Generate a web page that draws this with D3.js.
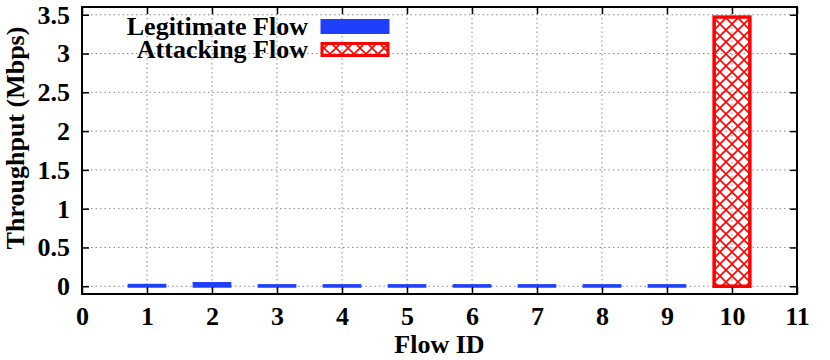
<!DOCTYPE html>
<html>
<head>
<meta charset="utf-8">
<script src="https://cdn.jsdelivr.net/npm/d3@7"></script>
<style>
  body { margin: 0; background: #fff; }
</style>
</head>
<body>
<div id="main"></div>
<script>
// values
const flowIds = [1, 2, 3, 4, 5, 6, 7, 8, 9, 10]
const throughput = [0.012, 0.035, 0.008, 0.008, 0.008, 0.008, 0.008, 0.008, 0.008, 3.47]
const flowType = ["legit", "legit", "legit", "legit", "legit", "legit", "legit", "legit", "legit", "attack"]
const xTicks = [0, 1, 2, 3, 4, 5, 6, 7, 8, 9, 10, 11]
const yTicks = [0, 0.5, 1, 1.5, 2, 2.5, 3, 3.5]
const legendLabels = ["Legitimate Flow", "Attacking Flow"]

const W = 830, H = 360
const m = {left: 82, right: 33, top: 7, bottom: 66}
const blue = "#1f40fa", red = "#ff0000"
const font = "'Liberation Serif', 'Times New Roman', 'DejaVu Serif', serif"
const fs = 26

const svg = d3.select("#main").append("svg").attr("width", W).attr("height", H)
  .attr("font-family", font).attr("font-weight", "bold")

// crosshatch for the attacking bar
const defs = svg.append("defs")
const pat = defs.append("pattern").attr("id", "hatch")
  .attr("patternUnits", "userSpaceOnUse").attr("width", 12).attr("height", 12)
pat.append("path").attr("d", "M0,0L12,12M0,12L12,0M-1,11L1,13M11,-1L13,1")
  .attr("stroke", red).attr("stroke-width", 1.6).attr("fill", "none")

const x = d3.scaleLinear().domain([0, 11]).range([m.left, W - m.right])
const y = d3.scaleLinear().domain([-0.1, 3.6]).range([H - m.bottom, m.top])

// grid
let grid = svg.append("g").attr("stroke", "#888").attr("stroke-width", 1).attr("stroke-dasharray", "1.5,3")
grid.selectAll(".gx").data(xTicks.slice(1, -1)).enter().append("line")
  .attr("x1", d => x(d)).attr("x2", d => x(d)).attr("y1", y.range()[0]).attr("y2", y.range()[1])
grid.selectAll(".gy").data(yTicks).enter().append("line")
  .attr("x1", x.range()[0]).attr("x2", x.range()[1]).attr("y1", d => y(d)).attr("y2", d => y(d))

// bars
const bw = 0.55
svg.append("g").selectAll("rect").data(flowIds).enter().append("rect")
  .attr("x", (d, i) => x(d - bw / 2))
  .attr("width", x(bw) - x(0))
  .attr("y", (d, i) => y(throughput[i]))
  .attr("height", (d, i) => y(0) - y(throughput[i]))
  .attr("fill", (d, i) => flowType[i] == "legit" ? blue : "url(#hatch)")
  .attr("stroke", (d, i) => flowType[i] == "legit" ? blue : red)
  .attr("stroke-width", (d, i) => flowType[i] == "legit" ? 3 : 3.5)

// axes, ticks pointing inward
function styleAxis(g) {
  g.attr("font-family", font).attr("font-size", fs)
  g.select(".domain").remove()
  g.selectAll("line").attr("stroke", "#000").attr("stroke-width", 1.5)
  g.selectAll("text").attr("fill", "#000").attr("font-family", font).attr("font-weight", "bold")
}
svg.append("g").attr("transform", `translate(0,${y.range()[0]})`)
  .call(d3.axisBottom(x).tickValues(xTicks).tickSize(-7).tickPadding(13).tickFormat(d3.format("d")))
  .call(styleAxis)
svg.append("g").attr("transform", `translate(0,${y.range()[1]})`)
  .call(d3.axisTop(x).tickValues(xTicks).tickSize(-7).tickFormat(""))
  .call(styleAxis)
svg.append("g").attr("transform", `translate(${x.range()[0]},0)`)
  .call(d3.axisLeft(y).tickValues(yTicks).tickSize(-7).tickPadding(12).tickFormat(d => d))
  .call(styleAxis)
svg.append("g").attr("transform", `translate(${x.range()[1]},0)`)
  .call(d3.axisRight(y).tickValues(yTicks).tickSize(-7).tickFormat(""))
  .call(styleAxis)

svg.append("rect").attr("x", x.range()[0]).attr("y", y.range()[1])
  .attr("width", x.range()[1] - x.range()[0]).attr("height", y.range()[0] - y.range()[1])
  .attr("fill", "none").attr("stroke", "#000").attr("stroke-width", 2)

// axis titles
svg.append("text").attr("x", (x.range()[0] + x.range()[1]) / 2).attr("y", 353)
  .attr("text-anchor", "middle").attr("font-size", fs).attr("font-family", font).text("Flow ID")
svg.append("text").attr("transform", "translate(24,138) rotate(-90)")
  .attr("text-anchor", "middle").attr("font-size", fs).attr("font-family", font).text("Throughput (Mbps)")

// legend
const leg = svg.append("g")
leg.selectAll("text").data(legendLabels).enter().append("text")
  .attr("x", 308).attr("y", (d, i) => 35 + i * 23)
  .attr("text-anchor", "end").attr("font-size", fs).attr("font-family", font).text(d => d)
leg.selectAll("rect").data(legendLabels).enter().append("rect")
  .attr("x", 322).attr("y", (d, i) => 20.5 + i * 23)
  .attr("width", 66).attr("height", 12)
  .attr("fill", (d, i) => i == 0 ? blue : "url(#hatch)")
  .attr("stroke", (d, i) => i == 0 ? blue : red).attr("stroke-width", 3)
</script>
</body>
</html>
